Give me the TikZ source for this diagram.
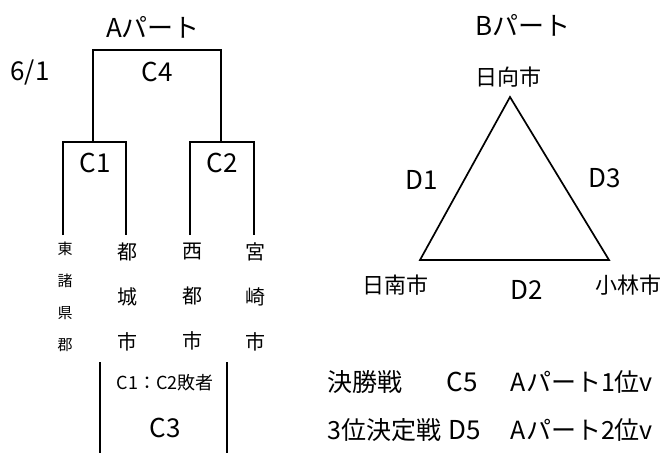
\documentclass[tikz,border=0pt]{standalone}
\usepackage{fontspec}
\setmainfont{Noto Sans CJK JP}
\begin{document}
\begin{tikzpicture}
  [x=1pt,y=-1pt,line width=1.7pt,every node/.style={inner sep=0pt},
   lbl/.style={font=\fontsize{26}{28}\selectfont},
   city/.style={font=\fontsize{22}{24}\selectfont},
   final/.style={font=\fontsize{25}{27}\selectfont,anchor=base west},
   vtext/.style={align=center,font=\fontsize{20}{45}\selectfont}]
  \useasboundingbox (0,0) rectangle (668,453);
  % A part bracket
  \node[lbl] (pa) at (153,27) {Aパート};
  \node[lbl] (date) at (30,73) {6/1};
  \node[lbl] (c4) at (157,72) {C4};
  \node[lbl] (c1) at (95,163) {C1};
  \node[lbl] (c2) at (222,163) {C2};
  \coordinate (l1) at (63,235);
  \coordinate (l2) at (126,235);
  \coordinate (l3) at (190,235);
  \coordinate (l4) at (254,235);
  \coordinate (m1) at (93,142);
  \coordinate (m2) at (221,142);
  \coordinate (top) at (157,50);
  \draw (l1) |- (m1) -| (l2);
  \draw (l3) |- (m2) -| (l4);
  \draw (m1) |- (top) -| (m2);
  \node[vtext,font=\fontsize{15}{32}\selectfont] (t1) at (65,297) {東\\諸\\県\\郡};
  \node[vtext] (t2) at (127,297) {都\\城\\市};
  \node[vtext] (t3) at (192,297) {西\\都\\市};
  \node[vtext] (t4) at (255,297) {宮\\崎\\市};
  % third place box
  \node[font=\fontsize{18}{20}\selectfont] (loser) at (165,383) {C1：C2敗者};
  \node[lbl] (c3) at (165,428) {C3};
  \coordinate (b1) at (100,362);
  \coordinate (b2) at (100,453);
  \coordinate (b3) at (227,362);
  \coordinate (b4) at (227,453);
  \foreach \from/\to in {b1/b2,b3/b4}
    \draw (\from) -- (\to);
  % B part league
  \node[lbl] (pb) at (523,25) {Bパート};
  \node[city] (hyuga) at (508,77) {日向市};
  \node[city] (nichinan) at (395,285) {日南市};
  \node[city] (kobayashi) at (628,285) {小林市};
  \node[lbl] (d1) at (422,180) {D1};
  \node[lbl] (d2) at (527,290) {D2};
  \node[lbl] (d3) at (605,178) {D3};
  \coordinate (v1) at (510,97);
  \coordinate (v2) at (420,260);
  \coordinate (v3) at (609,260);
  \draw (v1) -- (v2) -- (v3) -- cycle;
  % finals
  \node[final] (f1) at (327,391) {決勝戦};
  \node[lbl,anchor=base] (c5) at (462,391) {C5};
  \node[final] (f1b) at (510,391) {Aパート1位v};
  \node[final] (f2) at (327,439) {3位決定戦};
  \node[lbl,anchor=base] (d5) at (465,439) {D5};
  \node[final] (f2b) at (510,439) {Aパート2位v};
\end{tikzpicture}
\end{document}
